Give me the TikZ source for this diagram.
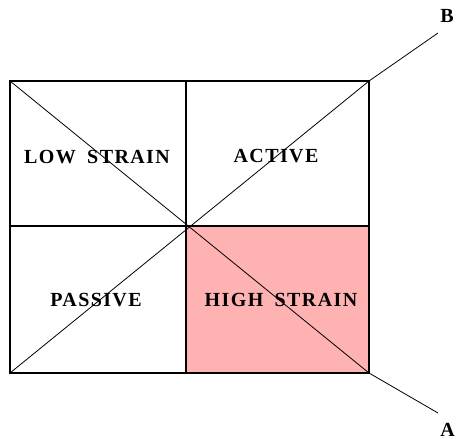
\documentclass[tikz,border=0pt]{standalone}
\usepackage{fontspec}
\setmainfont{Liberation Serif}[LetterSpace=7]
\definecolor{pinkfill}{RGB}{255,178,178}
\tikzset{
  cell/.style={draw=black, line width=1.3pt},
  diag/.style={draw=black, line width=0.8pt},
  lab/.style={font=\fontsize{20}{24}\selectfont\bfseries, inner sep=0pt, anchor=center},
}
\begin{document}
\begin{tikzpicture}[x=1pt,y=-1pt]
\useasboundingbox (0,0) rectangle (456,439);
\coordinate (tl) at (10,81);
\coordinate (tm) at (186,81);
\coordinate (tr) at (369,81);
\coordinate (ml) at (10,226);
\coordinate (c) at (186,226);
\coordinate (mr) at (369,226);
\coordinate (bl) at (10,373);
\coordinate (bm) at (186,373);
\coordinate (br) at (369,373);
\coordinate (Bend) at (438,33);
\coordinate (Aend) at (438,413);
\fill[pinkfill] (c) rectangle (br);
\draw[cell] (tl) rectangle (br);
\draw[cell] (tm) -- (bm);
\draw[cell] (ml) -- (mr);
\draw[diag] (tl) -- (br) -- (Aend);
\draw[diag] (bl) -- (tr) -- (Bend);
\node[lab] (low) at (97,157) {LOW\hspace{5pt} STRAIN};
\node[lab] (act) at (276,156) {ACTIVE};
\node[lab] (pas) at (96,300) {PASSIVE};
\node[lab] (high) at (281,300) {HIGH\hspace{5pt} STRAIN};
\node[lab, anchor=base] (B) at (447,23) {B};
\node[lab, anchor=base] (A) at (447.5,436) {A};
\end{tikzpicture}
\end{document}
